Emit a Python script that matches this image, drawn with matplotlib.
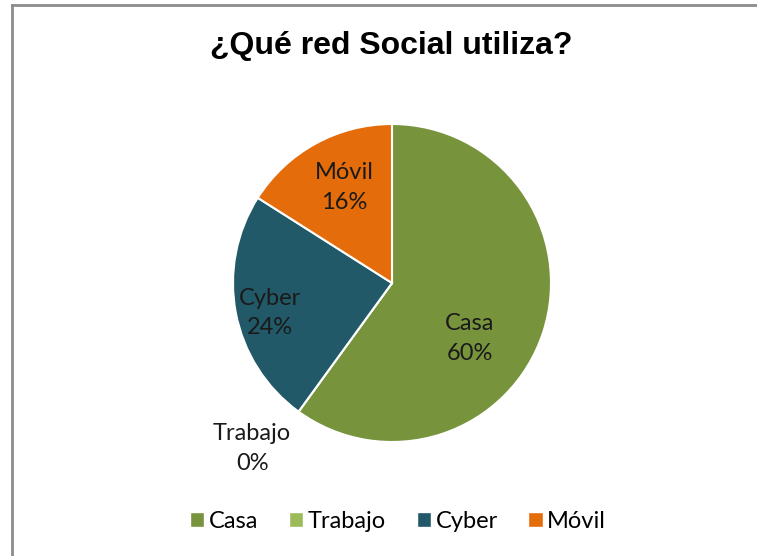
"""Pie chart: which social network access point is used."""

import matplotlib

matplotlib.use("Agg")
import matplotlib.pyplot as plt
from matplotlib.lines import Line2D
from matplotlib.patches import Patch

CATEGORIES = ["Casa", "Trabajo", "Cyber", "Móvil"]
SHARES = [60, 0, 24, 16]
COLORS = ["#77933C", "#9BBB59", "#215968", "#E46C0A"]
TITLE = "¿Qué red Social utiliza?"

# label positions in pie units (radius = 1)
LABEL_POS = [(0.49, -0.35), (-0.88, -1.04), (-0.77, -0.19), (-0.30, 0.60)]

W, H = 757, 556
LABEL_FONT = ["Lato", "DejaVu Sans"]

fig = plt.figure(figsize=(W / 100, H / 100), dpi=100)
fig.patch.set_facecolor("white")

# pie centred at (392, 283) px with a radius of 159 px
cx, cy, r = 392, 283, 159
ax = fig.add_axes([(cx - r) / W, (H - cy - r) / H, 2 * r / W, 2 * r / H])
ax.pie(
    SHARES,
    colors=COLORS,
    startangle=90,
    counterclock=False,
    radius=1,
    wedgeprops={"edgecolor": "white", "linewidth": 1.5},
)
ax.set_xlim(-1, 1)
ax.set_ylim(-1, 1)
ax.set_aspect("equal")
ax.axis("off")

for name, share, (x, y) in zip(CATEGORIES, SHARES, LABEL_POS):
    ax.text(
        x, y, f"{name}\n{share}%",
        ha="center", va="center", fontsize=17, family=LABEL_FONT,
        color="#1a1a1a", linespacing=1.5, clip_on=False,
    )

fig.text(391 / W, 1 - 46 / H, TITLE, ha="center", va="center",
         fontsize=23, fontweight="bold", family="Liberation Sans")

handles = [Patch(facecolor=c, edgecolor="white") for c in COLORS]
fig.legend(
    handles, CATEGORIES,
    loc="center", bbox_to_anchor=(398 / W, 1 - 521 / H),
    ncol=4, frameon=False, handlelength=0.6, handleheight=0.6,
    handletextpad=0.2, columnspacing=1.3,
    prop={"family": LABEL_FONT, "size": 17},
)

# chart border (left and top edges only are visible)
border = dict(color="#8c8c8c", linewidth=2, transform=fig.transFigure)
fig.add_artist(Line2D([12 / W, 12 / W], [0, 1 - 5 / H], **border))
fig.add_artist(Line2D([12 / W, 1], [1 - 5 / H, 1 - 5 / H], **border))

fig.savefig("out.png", dpi=100)
